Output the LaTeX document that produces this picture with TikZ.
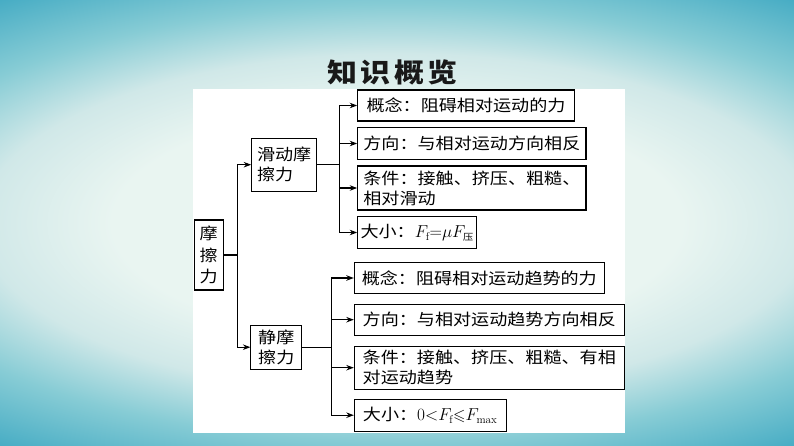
\documentclass[tikz,border=0pt]{standalone}
\usepackage{amsmath,amssymb}
\usepackage{fontspec}
\usetikzlibrary{arrows.meta}
\newfontfamily\cjk[FakeStretch=1.13]{Noto Sans CJK SC}
\definecolor{bgA}{RGB}{233,245,241}
\definecolor{bgB}{RGB}{208,232,232}
\definecolor{bgC}{RGB}{135,204,213}
\definecolor{bgD}{RGB}{70,172,196}
\pgfdeclareradialshading{bgshade}{\pgfpoint{0bp}{0bp}}{color(0bp)=(bgA); color(13bp)=(bgA); color(19bp)=(bgB); color(24.5bp)=(bgC); color(31bp)=(bgD); color(50bp)=(bgD)}
\tikzset{
  box/.style={draw=black, line width=1.05pt, fill=white, inner sep=0pt,
    font=\cjk\fontsize{16}{20}\selectfont, align=left},
  conn/.style={draw=black, line width=1.05pt},
  arr/.style={conn, -{Stealth[length=7.5pt,width=5.5pt]}},
  titlefont/.style={font=\cjk\bfseries\fontsize{26.5}{30}\selectfont, text=black!90}
}
\begin{document}
\begin{tikzpicture}[x=1pt,y=-1pt]
\useasboundingbox (0,0) rectangle (794,446);
\begin{scope}
\clip (0,0) rectangle (794,446);
\shade[shading=bgshade] (-150,0) rectangle (944,446);
\end{scope}
\fill[white] (193.3,89.3) rectangle (625,433.3);
\node[titlefont] (title) at (392.5,72) {知\hspace{3.5pt}识\hspace{3.5pt}概\hspace{3.5pt}览};
% tree nodes
\node[box, align=center, minimum width=29.3, minimum height=70, font=\cjk\fontsize{16}{21.5}\selectfont] (root) at (208.7,255) {摩\\擦\\力};
\node[box, minimum width=65, minimum height=52.7] (S1) at (284.2,164.7) {滑动摩\\擦力};
\node[box, minimum width=50.7, minimum height=44.3] (S2) at (276.3,347.2) {静摩\\擦力};
\node[box, minimum width=216.6, minimum height=31] (A1) at (466,105.5) {概念：阻碍相对运动的力};
\node[box, minimum width=228.3, minimum height=31.6] (A2) at (471.85,143.5) {方向：与相对运动方向相反};
\node[box, minimum width=228.3, minimum height=44] (A3) at (471.85,188) {条件：接触、挤压、粗糙、\\相对滑动};
\node[box, minimum width=119, minimum height=31.6] (A4) at (417.2,232.5) {大小：$F_{\mathrm{f}}{=}\mu F_{\hbox{\cjk\fontsize{9}{9}\selectfont 压}}$};
\node[box, minimum width=250, minimum height=30.6] (B1) at (479.3,278) {概念：阻碍相对运动趋势的力};
\node[box, minimum width=270, minimum height=30.7] (B2) at (489.3,319.7) {方向：与相对运动趋势方向相反};
\node[box, minimum width=270, minimum height=43.3] (B3) at (489.3,367.7) {条件：接触、挤压、粗糙、有相\\对运动趋势};
\node[box, minimum width=151.7, minimum height=31.7] (B4) at (430.2,415.2) {大小：$0{<}F_{\mathrm{f}}{\leqslant}F_{\max}$};
% junctions
\coordinate (j0) at (237.3,255);
\coordinate (j1) at (339.3,164.7);
\coordinate (j2) at (331.7,347.2);
\draw[conn] (root.east) -- (j0);
\draw[arr] (j0) |- (S1.west);
\draw[arr] (j0) |- (S2.west);
\draw[conn] (S1.east) -- (j1);
\draw[arr] (j1) |- (A1.west);
\draw[arr] (j1) |- (A2.west);
\draw[arr] (j1) |- (A3.west);
\draw[arr] (j1) |- (A4.west);
\draw[conn] (S2.east) -- (j2);
\draw[arr] (j2) |- (B1.west);
\draw[arr] (j2) |- (B2.west);
\draw[arr] (j2) |- (B3.west);
\draw[arr] (j2) |- (B4.west);
\end{tikzpicture}
\end{document}
